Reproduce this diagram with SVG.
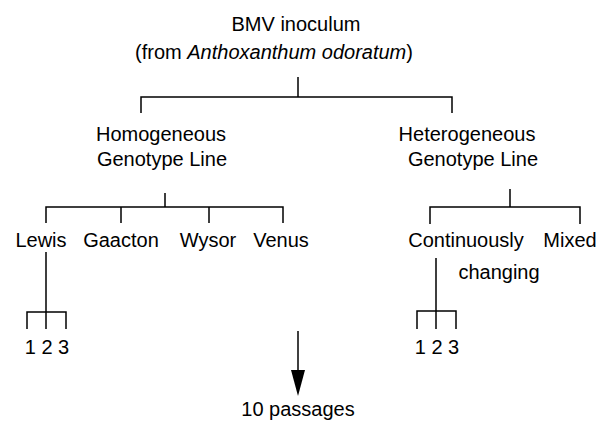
<svg xmlns="http://www.w3.org/2000/svg" width="603" height="421" viewBox="0 0 603 421">
<defs>
<style>
text{font-family:"Liberation Sans",Arial,sans-serif;font-size:20px;fill:#000;text-anchor:middle}
.c .ln{stroke:#000;stroke-width:1.5;fill:none}
.c .head{fill:#000;stroke:none}
</style>
</defs>
<rect width="603" height="421" fill="#fff"/>
<g id="root">
<text x="296" y="31">BMV inoculum</text>
<text x="274" y="59">(from <tspan font-style="italic">Anthoxanthum odoratum</tspan>)</text>
</g>
<g id="homogeneous">
<text x="161" y="141">Homogeneous</text>
<text x="162" y="166">Genotype Line</text>
</g>
<g id="heterogeneous">
<text x="467" y="141">Heterogeneous</text>
<text x="473" y="166">Genotype Line</text>
</g>
<g id="lewis"><text x="41" y="247">Lewis</text></g>
<g id="gaacton"><text x="121" y="247">Gaacton</text></g>
<g id="wysor"><text x="208" y="247">Wysor</text></g>
<g id="venus"><text x="281" y="247">Venus</text></g>
<g id="continuously"><text x="466" y="247">Continuously</text><text x="499" y="279">changing</text></g>
<g id="mixed"><text x="570" y="247">Mixed</text></g>
<g id="lewis-reps"><text x="47" y="354">1 2 3</text></g>
<g id="cont-reps"><text x="437" y="354">1 2 3</text></g>
<g id="passages"><text x="298" y="416">10 passages</text></g>
<g id="connectors" class="c">
<path class="ln" d="M298,77 V97 M141,113 V97 H452 V113"/>
<path class="ln" d="M165,193 V207 M46,223 V207 H283 V223 M121,207 V223 M209,207 V223"/>
<path class="ln" d="M510,189 V207 M430,224 V207 H580 V224"/>
<path class="ln" d="M46,252 V329 M27,329 V312 H66 V329"/>
<path class="ln" d="M436,258 V329 M417,329 V311 H456 V329"/>
<line class="ln" x1="298" y1="331" x2="298" y2="372"/>
<path class="head" d="M291,370 L305,370 L298,396 Z"/>
</g>
</svg>
